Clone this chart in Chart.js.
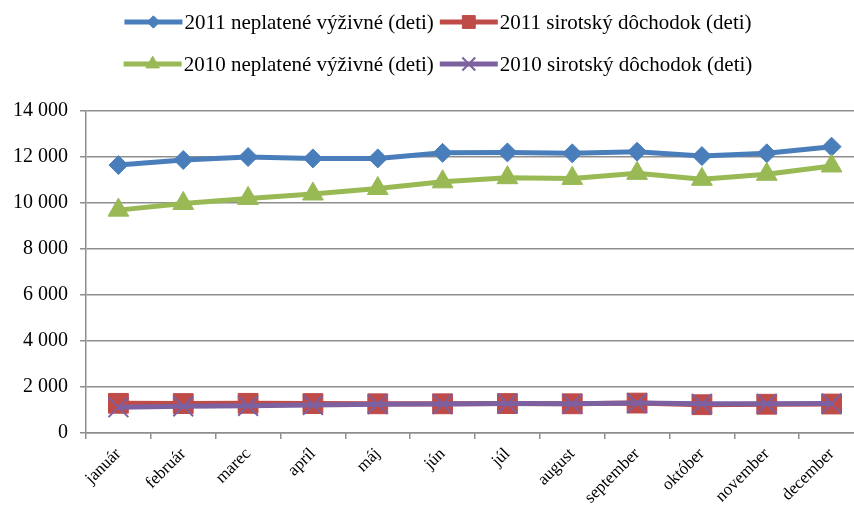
<!DOCTYPE html>
<html>
<head>
<meta charset="utf-8">
<script src="https://cdn.jsdelivr.net/npm/chart.js@4.4.1/dist/chart.umd.min.js"></script>
<style>
  html, body { margin: 0; padding: 0; background: #fff; overflow: hidden; width: 854px; height: 507px; }
  #wrap { position: relative; width: 880px; height: 507px; }
</style>
</head>
<body>
<div id="wrap"><canvas id="alimonyChart" width="880" height="507"></canvas></div>
<script>
const months = ["január", "február", "marec", "apríl", "máj", "jún", "júl", "august", "september", "október", "november", "december"];
const seriesLabels = [
  "2011 neplatené výživné (deti)",
  "2011 sirotský dôchodok (deti)",
  "2010 neplatené výživné (deti)",
  "2010 sirotský dôchodok (deti)"
];
const unpaid2011 = [11650, 11870, 12000, 11940, 11940, 12180, 12200, 12160, 12230, 12040, 12160, 12450];
const orphan2011 = [1290, 1280, 1290, 1280, 1270, 1270, 1280, 1270, 1300, 1230, 1250, 1260];
const unpaid2010 = [9690, 9980, 10200, 10390, 10630, 10920, 11100, 11070, 11290, 11030, 11250, 11610];
const orphan2010 = [1120, 1160, 1180, 1220, 1250, 1260, 1280, 1270, 1300, 1270, 1270, 1280];
const yTicks = { min: 0, max: 14000, step: 2000 };

const serif = "'Liberation Serif', 'Times New Roman', serif";
const gridGray = "#8e8e8e";

function formatThousands(value) {
  return String(value).replace(/\B(?=(\d{3})+(?!\d))/g, " ");
}

function makeSeries(label, data, color, pointStyle, pointRadius, order, pointBorderWidth = 1) {
  return {
    label,
    data,
    borderColor: color,
    backgroundColor: color,
    pointBackgroundColor: color,
    pointBorderColor: color,
    borderWidth: 5,
    pointStyle,
    pointRadius,
    pointBorderWidth,
    pointHoverRadius: pointRadius,
    tension: 0,
    order
  };
}

// legend drawn by hand: line sample with marker, two rows of two
const legendRows = [[0, 1], [2, 3]];
const excelLegend = {
  id: "excelLegend",
  afterDraw(chart) {
    const ctx = chart.ctx;
    const sampleWidth = 58;
    const textGap = 2;
    const itemGap = 6;
    ctx.save();
    ctx.font = `21px ${serif}`;
    ctx.textBaseline = "middle";
    legendRows.forEach((row, rowIndex) => {
      const y = 22 + rowIndex * 42;
      const widths = row.map((i) => sampleWidth + textGap + ctx.measureText(chart.data.datasets[i].label).width);
      const total = widths.reduce((a, b) => a + b, 0) + itemGap * (row.length - 1);
      let x = chart.width / 2 - total / 2 - 2;
      row.forEach((i, k) => {
        const ds = chart.data.datasets[i];
        ctx.strokeStyle = ds.borderColor;
        ctx.fillStyle = ds.borderColor;
        ctx.lineWidth = 5;
        ctx.lineCap = "butt";
        ctx.beginPath();
        ctx.moveTo(x, y);
        ctx.lineTo(x + sampleWidth, y);
        ctx.stroke();
        ctx.lineWidth = ds.pointBorderWidth;
        Chart.helpers.drawPoint(ctx, {
          pointStyle: ds.pointStyle,
          radius: ds.pointRadius * 0.65,
          rotation: 0,
          borderWidth: ds.pointBorderWidth
        }, x + sampleWidth / 2, y);
        ctx.fillStyle = "#000";
        ctx.textAlign = "left";
        ctx.fillText(ds.label, x + sampleWidth + textGap, y + 1);
        x += widths[k] + itemGap;
      });
    });
    ctx.restore();
  }
};

new Chart(document.getElementById("alimonyChart"), {
  type: "line",
  data: {
    labels: months,
    datasets: [
      makeSeries(seriesLabels[0], unpaid2011, "#4A7EBB", "rectRot", 9.5, 4),
      makeSeries(seriesLabels[1], orphan2011, "#BE4B48", "rect", 14, 3),
      makeSeries(seriesLabels[2], unpaid2010, "#98B954", "triangle", 12, 2),
      makeSeries(seriesLabels[3], orphan2010, "#7D60A0", "crossRot", 14, 1, 2)
    ]
  },
  options: {
    responsive: false,
    animation: false,
    events: [],
    layout: { padding: { top: 111, right: 14, bottom: 0, left: 0 } },
    plugins: {
      legend: { display: false },
      tooltip: { enabled: false }
    },
    scales: {
      x: {
        offset: true,
        grid: { offset: true, drawOnChartArea: false, color: gridGray, lineWidth: 1.5, tickLength: 6 },
        border: { color: gridGray, width: 1.5 },
        ticks: { autoSkip: false, maxRotation: 45, minRotation: 45, color: "#000", font: { family: serif, size: 17 }, padding: 5 },
        afterFit: (scale) => { scale.height = 74; }
      },
      y: {
        min: yTicks.min,
        max: yTicks.max,
        grid: { color: gridGray, lineWidth: 1.5, tickLength: 6 },
        border: { color: gridGray, width: 1.5 },
        ticks: { stepSize: yTicks.step, color: "#000", font: { family: serif, size: 20 }, padding: 12, callback: (value) => formatThousands(value) },
        afterFit: (scale) => { scale.width = 86; }
      }
    }
  },
  plugins: [excelLegend]
});
</script>
</body>
</html>
